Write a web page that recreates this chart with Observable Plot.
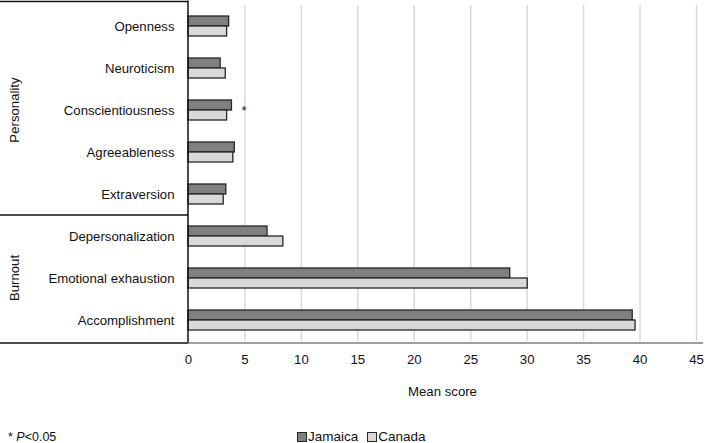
<!DOCTYPE html>
<html><head><meta charset="utf-8">
<script src="https://cdn.jsdelivr.net/npm/d3@7"></script>
<script src="https://cdn.jsdelivr.net/npm/@observablehq/plot@0.6"></script>
<style>
body{margin:0;background:#fff;font-family:"Liberation Sans",Arial,sans-serif;}
#wrap{position:relative;width:710px;height:443px;overflow:hidden;}
#wrap svg text{font-size:13.2px;}
#foot{position:absolute;left:0;top:428px;width:710px;height:18px;line-height:18px;font-size:12.5px;color:#111;}
#note{position:absolute;left:8px;top:0;}
#legend{position:absolute;left:297px;top:0;display:flex;align-items:center;font-size:13.5px;}
.item{display:flex;align-items:center;margin-right:9px;}
.sw{width:8px;height:8px;border:1.3px solid #262626;margin-right:1px;display:inline-block;}
</style></head><body><div id="wrap"><div id="foot"><span id="note"></span><div id="legend"></div></div></div>
<script>
const categories = ["Openness","Neuroticism","Conscientiousness","Agreeableness","Extraversion","Depersonalization","Emotional exhaustion","Accomplishment"];
const groups = ["Personality","Personality","Personality","Personality","Personality","Burnout","Burnout","Burnout"];
const seriesNames = ["Jamaica","Canada"];
const jamaica = [3.6, 2.85, 3.85, 4.1, 3.35, 7.0, 28.5, 39.35];
const canada = [3.42, 3.3, 3.42, 3.97, 3.12, 8.4, 30.05, 39.6];
const significant = ["Conscientiousness"];
const xTicks = [0,5,10,15,20,25,30,35,40,45];
const seriesColors = ["#808080","#d9d9d9"];
const footnote = "* <i>P</i>&lt;0.05";

const data = categories.flatMap((c,i)=>[
  {category:c, series:seriesNames[0], value:jamaica[i]},
  {category:c, series:seriesNames[1], value:canada[i]}
]);
const stars = significant.map(c => {const i = categories.indexOf(c); return {category:c, value:Math.max(jamaica[i], canada[i])};});

const W=710, H=412, mT=2, mB=69, mL=188, mR=14;
const chart = Plot.plot({
  width: W, height: H, marginTop: mT, marginBottom: mB, marginLeft: mL, marginRight: mR,
  style: {fontFamily: "'Liberation Sans', Arial, sans-serif", fontSize: "13px", color: "#111", background: "white", overflow: "visible"},
  x: {domain: [0,45], label: "Mean score"},
  fy: {domain: categories, padding: 0, label: null},
  y: {domain: seriesNames, paddingInner: 0, paddingOuter: 1.07, axis: null},
  color: {domain: seriesNames, range: seriesColors},
  marks: [
    Plot.gridX(xTicks.slice(1), {stroke: "#d9d9d9", strokeOpacity: 1, strokeWidth: 1.5}),
    Plot.barX(data, {fy: "category", y: "series", x: "value", fill: "series", stroke: "#262626", strokeWidth: 1.3}),
    Plot.text(stars, {fy: "category", x: "value", text: () => "*", dx: 12, textAnchor: "middle", fontSize: 12}),
    Plot.axisX(xTicks, {tickSize: 0, tickPadding: 13, label: "Mean score", labelAnchor: "center", labelArrow: "none", labelOffset: 54, fontSize: 13}),
    Plot.axisFy({anchor: "left", tickSize: 0, tickPadding: 14, label: null, fontSize: 13})
  ]
});
document.getElementById("wrap").prepend(chart);

// frame lines and group labels, placed from the fy scale
const fy = chart.scale("fy");
const svg = d3.select(chart.tagName.toLowerCase() === "svg" ? chart : chart.querySelector("svg"));
const bottom = H - mB;
const g = svg.append("g");
const black = "#111";
const lines = [
  [0, 1.5, mL, 1.5, black],
  [0, bottom, mL, bottom, black],
  [mL, 0.5, mL, bottom, black],
  [mL, bottom, W - 7, bottom, "#7f7f7f"]
];
const groupNames = [...new Set(groups)];
groupNames.forEach((gn, k) => {
  const cats = categories.filter((c,i) => groups[i] === gn);
  const y0 = fy.apply(cats[0]);
  const y1 = fy.apply(cats[cats.length-1]) + fy.bandwidth;
  if (k > 0) lines.push([0, y0, mL, y0, black]);
  g.append("text").attr("transform", `translate(14,${(y0+y1)/2}) rotate(-90)`)
    .attr("text-anchor", "middle").attr("dy", "0.35em")
    .attr("fill", black).text(gn);
});
lines.forEach(([x1,y1,x2,y2,c]) => g.append("line").attr("x1",x1).attr("y1",y1).attr("x2",x2).attr("y2",y2)
  .attr("stroke", c).attr("stroke-width", 1.5));

document.getElementById("note").innerHTML = footnote;
const legend = d3.select("#legend");
seriesNames.forEach((s,i) => {
  const it = legend.append("div").attr("class","item");
  it.append("span").attr("class","sw").style("background", seriesColors[i]);
  it.append("span").text(s);
});
</script></body></html>
